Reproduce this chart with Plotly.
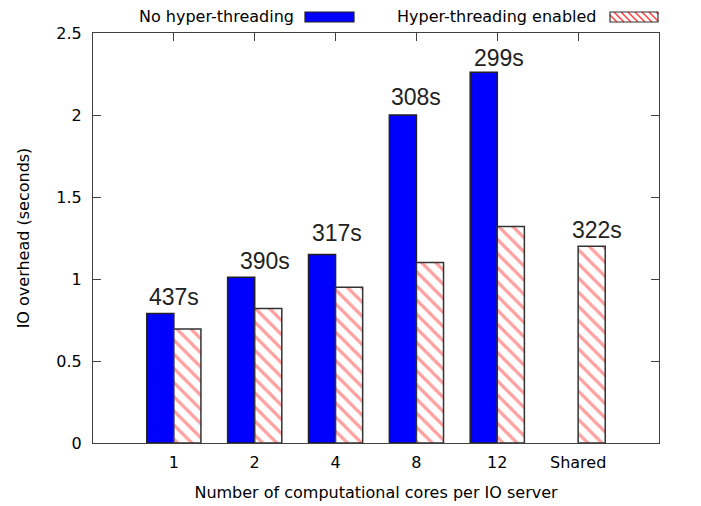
import plotly.graph_objects as go

cores = ["1", "2", "4", "8", "12", "Shared"]
no_ht = [0.79, 1.01, 1.15, 2.00, 2.26, None]
ht_on = [0.695, 0.82, 0.95, 1.10, 1.32, 1.20]
run_times = ["437s", "390s", "317s", "308s", "299s", "322s"]
label_y = [0.89, 1.11, 1.28, 2.11, 2.35, 1.30]

# page body has an 8px margin, so the figure is drawn 8px in from the window corner
PAD = 8
W, H = 701 - PAD, 506 - PAD
L, R, T, B = 93 - PAD, 42, 33 - PAD, 63


def px_x(x):
    return (x - PAD - L) / (W - L - R)


def px_y(y):
    return (PAD + H - B - y) / (H - T - B)


fig = go.Figure()
fig.add_trace(go.Bar(
    x=cores, y=no_ht, name="No hyper-threading",
    marker=dict(color="#0000ff", line=dict(color="#222222", width=1.5)),
))
fig.add_trace(go.Bar(
    x=cores, y=ht_on, name="Hyper-threading enabled",
    marker=dict(color="white", line=dict(color="#333333", width=1.5),
                pattern=dict(shape="\\", fgcolor="#ff4040", bgcolor="white",
                             size=10, solidity=0.32)),
))

# run-time labels, placed by category index
xshift = [0, 10, 1, 0, 2, 19]
for i, (y, t, s) in enumerate(zip(label_y, run_times, xshift)):
    fig.add_annotation(x=i, y=y, text=t, showarrow=False, xshift=s,
                       font=dict(family="Liberation Sans", size=23, color="#222222"))

# legend drawn by hand: text first, key on the right (gnuplot style)
ly = 17
legend_font = dict(family="DejaVu Sans", size=16, color="black")
fig.add_annotation(xref="paper", yref="paper", x=px_x(296), y=px_y(ly),
                   text="No hyper-threading", showarrow=False,
                   xanchor="right", yanchor="middle", font=legend_font)
fig.add_annotation(xref="paper", yref="paper", x=px_x(599), y=px_y(ly),
                   text="Hyper-threading enabled", showarrow=False,
                   xanchor="right", yanchor="middle", font=legend_font)
fig.add_shape(type="rect", xref="paper", yref="paper",
              x0=px_x(305), x1=px_x(354), y0=px_y(ly + 5), y1=px_y(ly - 5),
              fillcolor="#0000ff", line=dict(color="#222222", width=1.2))
x0, x1, y0, y1 = 610, 658, ly - 5, ly + 5
for k in range(-10, 48, 7):
    a, b = x0 + k, x0 + k + (y1 - y0)
    ca, cb = max(a, x0), min(b, x1)
    if ca >= cb:
        continue
    fig.add_shape(type="line", xref="paper", yref="paper",
                  x0=px_x(ca), y0=px_y(y0 + (ca - a)),
                  x1=px_x(cb), y1=px_y(y0 + (cb - a)),
                  line=dict(color="#ff4040", width=1.5))
fig.add_shape(type="rect", xref="paper", yref="paper",
              x0=px_x(x0), x1=px_x(x1), y0=px_y(y1), y1=px_y(y0),
              line=dict(color="#333333", width=1.2))

axis_common = dict(showline=True, linecolor="#404040", linewidth=1.2,
                   mirror="ticks", ticks="inside", ticklen=8,
                   tickcolor="#404040", showgrid=False, zeroline=False,
                   automargin=False,
                   tickfont=dict(family="DejaVu Sans", size=16, color="black"),
                   title_font=dict(family="DejaVu Sans", size=16, color="black"))

fig.update_layout(
    width=W, height=H,
    margin=dict(l=L, r=R, t=T, b=B),
    paper_bgcolor="white", plot_bgcolor="white",
    barmode="group", bargap=0.33, bargroupgap=0,
    showlegend=False,
    xaxis=dict(range=[-1, 6], title_text="Number of computational cores per IO server",
               ticklabelstandoff=5, title_standoff=15, **axis_common),
    yaxis=dict(range=[0, 2.5], dtick=0.5, title_text="IO overhead (seconds)",
               ticklabelstandoff=7, title_standoff=22, **axis_common),
)

fig.write_html("out.html")
